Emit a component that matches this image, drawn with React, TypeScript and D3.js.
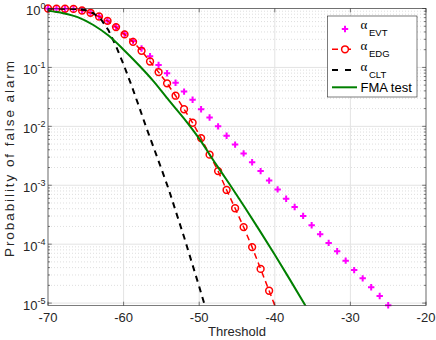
import React from 'react';
import * as d3 from 'd3';

// Thresholds shared by the EVT and EDG marker series
const thresholds = [
  -70, -68.875, -67.75, -66.625, -65.5, -64.375, -63.25, -62.125, -61, -59.875,
  -58.75, -57.625, -56.5, -55.375, -54.25, -53.125, -52, -50.875, -49.75, -48.625,
  -47.5, -46.375, -45.25, -44.125, -43, -41.875, -40.75, -39.625, -38.5, -37.375,
  -36.25, -35.125, -34, -32.875, -31.75, -30.625, -29.5, -28.375, -27.25, -26.125, -25,
];

const alphaEVT = [
  1.0, 0.993, 0.989, 0.977, 0.933, 0.851, 0.741, 0.617, 0.49, 0.372,
  0.282, 0.209, 0.155, 0.11, 0.0794, 0.055, 0.0389, 0.0282, 0.0195, 0.0141,
  0.01, 0.00692, 0.0049, 0.00347, 0.00245, 0.00174, 0.0012, 8.51e-4, 5.89e-4, 4.27e-4,
  3.02e-4, 2.09e-4, 1.48e-4, 1.05e-4, 7.59e-5, 5.25e-5, 3.63e-5, 2.63e-5, 1.86e-5, 1.32e-5, 9.2e-6,
];

const alphaEDG = [
  1.0, 0.995, 0.99, 0.985, 0.925, 0.845, 0.731, 0.617, 0.483, 0.363,
  0.272, 0.191, 0.126, 0.0832, 0.0537, 0.0331, 0.0195, 0.0115, 0.00631, 0.00331,
  0.00174, 8.32e-4, 4.07e-4, 1.95e-4, 8.91e-5, 3.8e-5, 1.62e-5, 6.8e-6,
];

const cltThresholds = [
  -70, -68, -66, -65, -64, -63, -62, -61, -60, -59, -58, -57, -56, -55, -54, -53, -52, -51, -50, -49,
];
const alphaCLT = [
  1.0, 0.995, 0.977, 0.933, 0.832, 0.66, 0.427, 0.229, 0.112, 0.0513,
  0.0224, 0.00955, 0.00427, 0.0019, 8.3e-4, 3.3e-4, 1.32e-4, 5.0e-5, 1.9e-5, 7.1e-6,
];

const fmaThresholds = [
  -70, -68, -66, -64, -62, -60, -58, -56, -54, -52, -50, -48, -46, -44, -42, -40, -38, -36, -35,
];
const fmaTest = [
  0.912, 0.832, 0.708, 0.525, 0.347, 0.2, 0.11, 0.0575, 0.0275, 0.0135,
  0.00617, 0.00251, 0.00105, 4.27e-4, 1.7e-4, 6.6e-5, 2.5e-5, 9.3e-6, 5.6e-6,
];

const xTicks = [-70, -60, -50, -40, -30, -20];
const yTickExponents = [0, -1, -2, -3, -4, -5];
const legendSubs = ['EVT', 'EDG', 'CLT'];

const W = 436;
const H = 340;
const L = 48;
const R = 426;
const T = 8.5;
const B = 305.5;
const AXC = '#262626';
const SANS = '"Liberation Sans", Arial, Helvetica, sans-serif';

export default function App() {
  const x = d3.scaleLinear().domain([-70, -20]).range([L, R]);
  const y = d3.scaleLog().domain([9.1e-6, 1]).range([B, T]);

  const line = d3
    .line<[number, number]>()
    .x((d) => x(d[0]))
    .y((d) => y(d[1]));
  const smooth = d3
    .line<[number, number]>()
    .x((d) => x(d[0]))
    .y((d) => y(d[1]))
    .curve(d3.curveMonotoneX);

  const evtPts = thresholds.map((t, i) => [t, alphaEVT[i]] as [number, number]);
  const edgPts = alphaEDG.map((p, i) => [thresholds[i], p] as [number, number]);
  const cltPts = cltThresholds.map((t, i) => [t, alphaCLT[i]] as [number, number]);
  const fmaPts = fmaThresholds.map((t, i) => [t, fmaTest[i]] as [number, number]);

  const [yLo, yHi] = y.domain();
  const minor: number[] = [];
  for (let k = -6; k <= -1; k++) {
    for (let m = 2; m <= 9; m++) {
      const v = m * Math.pow(10, k);
      if (v >= yLo && v <= yHi) minor.push(v);
    }
  }
  const inside = (p: [number, number]) => p[1] >= yLo && p[1] <= yHi;

  return (
    <svg
      width={W}
      height={H}
      style={{ position: 'absolute', left: 0, top: 0, background: '#fff' }}
      fontFamily={SANS}
    >
      <defs>
        <clipPath id="plot">
          <rect x={L} y={T} width={R - L} height={B - T} />
        </clipPath>
      </defs>
      <rect x={0} y={0} width={W} height={H} fill="#fff" />
      <rect x={L} y={T} width={R - L} height={B - T} fill="#fff" />

      {/* minor grid */}
      {minor.map((v) => (
        <line key={'mg' + v} x1={L} x2={R} y1={y(v)} y2={y(v)} stroke="#c8c8c8" strokeWidth={0.6} strokeDasharray="1,2" />
      ))}
      {/* major grid */}
      {yTickExponents.map((e) => (
        <line key={'yg' + e} x1={L} x2={R} y1={y(Math.pow(10, e))} y2={y(Math.pow(10, e))} stroke="#e3e3e3" strokeWidth={1} />
      ))}
      {xTicks.map((t) => (
        <line key={'xg' + t} x1={x(t)} x2={x(t)} y1={T} y2={B} stroke="#e3e3e3" strokeWidth={1} />
      ))}

      {/* data */}
      <g>
        {evtPts.filter(inside).map((p, i) => (
          <path
            key={'evt' + i}
            d={`M${x(p[0]) - 3.2},${y(p[1])}H${x(p[0]) + 3.2}M${x(p[0])},${y(p[1]) - 3.2}V${y(p[1]) + 3.2}`}
            stroke="#ff00ff"
            strokeWidth={2}
            fill="none"
          />
        ))}
      </g>
      <g clipPath="url(#plot)">
        <path d={line(edgPts) || ''} fill="none" stroke="#ff0000" strokeWidth={1.5} strokeDasharray="6,4" />
      </g>
      <g>
        {edgPts.filter(inside).map((p, i) => (
          <circle key={'edg' + i} cx={x(p[0])} cy={y(p[1])} r={3.4} fill="none" stroke="#ff0000" strokeWidth={1.5} />
        ))}
      </g>
      <g clipPath="url(#plot)">
        <path d={line(cltPts) || ''} fill="none" stroke="#000" strokeWidth={2} strokeDasharray="6,5" />
        <path d={smooth(fmaPts) || ''} fill="none" stroke="#008000" strokeWidth={2} />
      </g>

      {/* axes box */}
      <rect x={L} y={T} width={R - L} height={B - T} fill="none" stroke={AXC} strokeWidth={0.6} />
      {/* x ticks */}
      {xTicks.map((t) => (
        <g key={'xt' + t}>
          <line x1={x(t)} x2={x(t)} y1={B} y2={B - 3.8} stroke={AXC} strokeWidth={0.6} />
          <line x1={x(t)} x2={x(t)} y1={T} y2={T + 3.8} stroke={AXC} strokeWidth={0.6} />
          <text x={x(t)} y={321.5} textAnchor="middle" fontSize={13} fill={AXC}>
            {t}
          </text>
        </g>
      ))}
      {/* y ticks */}
      {yTickExponents.map((e) => {
        const yy = y(Math.pow(10, e));
        return (
          <g key={'yt' + e}>
            <line x1={L} x2={L + 3.8} y1={yy} y2={yy} stroke={AXC} strokeWidth={0.6} />
            <line x1={R} x2={R - 3.8} y1={yy} y2={yy} stroke={AXC} strokeWidth={0.6} />
            <text x={45.5} y={yy + 6.5} textAnchor="end" fontSize={13} fill={AXC}>
              10
              <tspan fontSize={9} dy={-6}>
                {e === 0 ? '0' : String(e)}
              </tspan>
            </text>
          </g>
        );
      })}
      {minor.map((v) => (
        <g key={'mt' + v}>
          <line x1={L} x2={L + 2} y1={y(v)} y2={y(v)} stroke={AXC} strokeWidth={0.6} />
          <line x1={R} x2={R - 2} y1={y(v)} y2={y(v)} stroke={AXC} strokeWidth={0.6} />
        </g>
      ))}

      {/* axis labels */}
      <text x={(L + R) / 2} y={336} textAnchor="middle" fontSize={13} fill={AXC}>
        Threshold
      </text>
      <text
        transform={`translate(13.5,159) rotate(-90)`}
        textAnchor="middle"
        fontSize={13.5}
        fill={AXC}
        textLength={196}
        lengthAdjust="spacing"
      >
        Probability of false alarm
      </text>

      {/* legend */}
      <g>
        <rect x={327.5} y={16} width={89.5} height={81} fill="#fff" stroke={AXC} strokeWidth={0.6} />
        <path d="M341.8,29H348.2M345,25.8V32.2" stroke="#ff00ff" strokeWidth={2} />
        <line x1={332} x2={357} y1={49.3} y2={49.3} stroke="#ff0000" strokeWidth={1.5} strokeDasharray="6,7" />
        <circle cx={345} cy={49.3} r={3.4} fill="#fff" stroke="#ff0000" strokeWidth={1.5} />
        <line x1={332} x2={357} y1={70} y2={70} stroke="#000" strokeWidth={2} strokeDasharray="6,7" />
        <line x1={332} x2={357} y1={87.3} y2={87.3} stroke="#008000" strokeWidth={2} />
        {legendSubs.map((s, i) => {
          const by = [29, 49.5, 70.5][i];
          return (
            <g key={'lg' + s}>
              <text x={360.5} y={by} fontSize={13} fontFamily='"Liberation Serif", "DejaVu Serif", serif' fill="#000">
                α
              </text>
              <text x={369} y={by + 7} fontSize={9.5} fill="#000">
                {s}
              </text>
            </g>
          );
        })}
        <text x={360.5} y={91.5} fontSize={13} fill="#000">
          FMA test
        </text>
      </g>
    </svg>
  );
}
